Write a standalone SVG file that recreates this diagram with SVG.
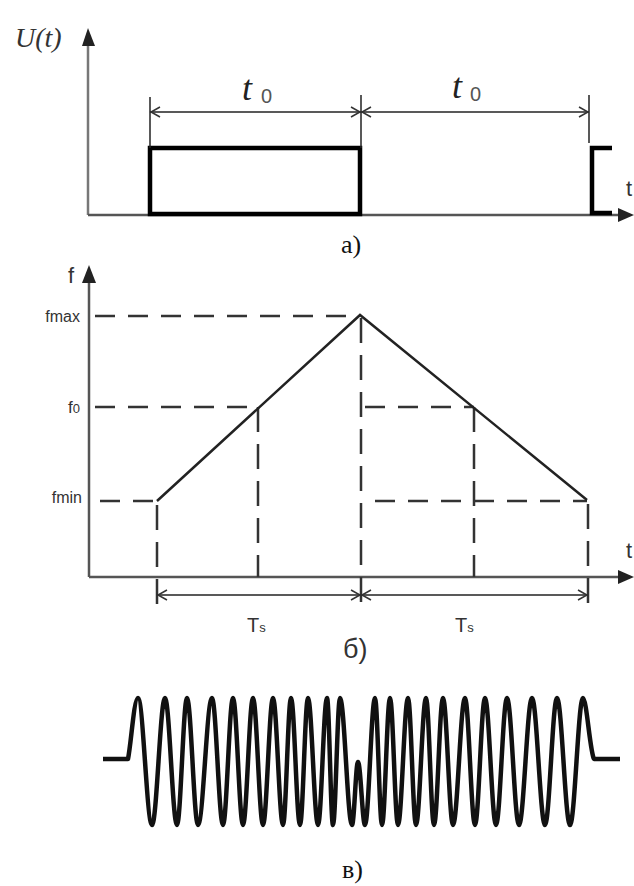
<svg xmlns="http://www.w3.org/2000/svg" width="634" height="886" viewBox="0 0 634 886">
<style>
.axis{stroke:#555;stroke-width:2.5;fill:none}
.axisg{stroke:#777;stroke-width:2.5;fill:none}
.dash{stroke:#333;stroke-width:2.5;fill:none;stroke-dasharray:20 13}
.vdash{stroke:#333;stroke-width:2.5;fill:none;stroke-dasharray:25 12}
.thin{stroke:#222;stroke-width:1.5;fill:none}
.chev{stroke:#333;stroke-width:1.5;fill:none}
.pulse{stroke:#000;stroke-width:4.5;fill:none}
.line{stroke:#222;stroke-width:2.5;fill:none}
.wave{stroke:#111;stroke-width:4.5;fill:none;stroke-linejoin:round}
</style>
<rect width="634" height="886" fill="#fff"/>

<!-- Panel a -->
<g id="panel-a-axes">
  <line class="axisg" x1="88" y1="44" x2="88" y2="215"/>
  <polygon points="88,28 82,46 95,46" fill="#222"/>
  <line class="axis" x1="88" y1="215" x2="622" y2="215"/>
  <polygon points="634,215 618,208 618,222" fill="#222"/>
  <text x="15" y="47" font-size="28" font-style="italic" font-family="Liberation Serif, Noto Serif, DejaVu Serif, Times, serif" fill="#333">U(t)</text>
  <text x="626" y="196" font-size="22" font-family="Liberation Sans, sans-serif" fill="#333">t</text>
</g>
<g id="pulse-1">
  <rect class="pulse" x="150" y="148" width="210" height="66"/>
</g>
<g id="pulse-2">
  <polyline class="pulse" points="612,148 592,148 592,213 612,213"/>
</g>
<g id="dim-a">
  <line class="thin" x1="150" y1="97" x2="150" y2="148"/>
  <line class="thin" x1="361" y1="95" x2="361" y2="148"/>
  <line class="thin" x1="589" y1="95" x2="589" y2="143"/>
  <line class="thin" x1="150" y1="112" x2="589" y2="112"/>
  <polyline class="chev" points="160,107 151,112 160,117"/>
  <polyline class="chev" points="351,107 360,112 351,117"/>
  <polyline class="chev" points="371,107 362,112 371,117"/>
  <polyline class="chev" points="579,107 588,112 579,117"/>
  <text x="242" y="100" font-size="36" font-style="italic" font-family="Liberation Serif, Noto Serif, DejaVu Serif, Times, serif" fill="#222">t</text>
  <text x="261" y="103" font-size="20" font-family="Liberation Sans, sans-serif" fill="#555">0</text>
  <text x="452" y="98" font-size="36" font-style="italic" font-family="Liberation Serif, Noto Serif, DejaVu Serif, Times, serif" fill="#222">t</text>
  <text x="470" y="101" font-size="20" font-family="Liberation Sans, sans-serif" fill="#555">0</text>
</g>
<text id="label-a" x="341" y="253" font-size="26" font-family="Liberation Serif, Noto Serif, DejaVu Serif, Times, serif" fill="#111">а)</text>

<!-- Panel b -->
<g id="panel-b-axes" font-family="Liberation Sans, sans-serif" fill="#333">
  <line class="axis" x1="89" y1="281" x2="89" y2="577"/>
  <polygon points="89,265 82,283 96,283" fill="#222"/>
  <line class="axis" x1="89" y1="577" x2="622" y2="577"/>
  <polygon points="634,577 618,570 618,584" fill="#222"/>
  <text x="68" y="283" font-size="22">f</text>
  <text x="626" y="558" font-size="22">t</text>
  <text x="80" y="322" font-size="16" text-anchor="end">fmax</text>
  <text x="80" y="413" font-size="17" text-anchor="end">f<tspan font-size="13">0</tspan></text>
  <text x="82" y="503" font-size="16" text-anchor="end">fmin</text>
</g>
<g id="guides-b">
  <line class="dash" x1="95" y1="316" x2="358" y2="316"/>
  <line class="dash" x1="95" y1="407" x2="258" y2="407"/>
  <line class="dash" x1="100" y1="501" x2="157" y2="501"/>
  <line class="dash" x1="365" y1="407" x2="474" y2="407"/>
  <line class="dash" x1="375" y1="501" x2="587" y2="501"/>
  <line class="vdash" x1="157" y1="505" x2="157" y2="612"/>
  <line class="vdash" x1="258" y1="407" x2="258" y2="577"/>
  <line class="vdash" x1="361" y1="318" x2="361" y2="612"/>
  <line class="vdash" x1="474" y1="407" x2="474" y2="577"/>
  <line class="vdash" x1="588" y1="504" x2="588" y2="605"/>
</g>
<g id="freq-ramp">
  <polyline class="line" points="157,501 360,315 587,500"/>
</g>
<g id="dim-b" font-family="Liberation Sans, sans-serif" fill="#333">
  <line class="thin" x1="157" y1="595" x2="588" y2="595" stroke-width="2.5"/>
  <polyline class="chev" points="167,590 158,595 167,600"/>
  <polyline class="chev" points="351,590 360,595 351,600"/>
  <polyline class="chev" points="371,590 362,595 371,600"/>
  <polyline class="chev" points="578,590 587,595 578,600"/>
  <text x="247" y="632" font-size="20">T<tspan font-size="13">s</tspan></text>
  <text x="455" y="632" font-size="20">T<tspan font-size="13">s</tspan></text>
</g>
<text id="label-b" x="343" y="658" font-size="27" font-family="Liberation Sans, sans-serif" fill="#333">б)</text>

<!-- Panel c -->
<g id="chirp">
  <path class="wave" d="M103 759 H128 C131 745 134 698 138 698
  C143.1 698 146.9 825 152 825 C156.7 825 160.3 698 165 698
  C169.4 698 172.6 825 177 825 C180.6 825 183.4 698 187 698
  C191 698 194 825 198 825 C203.1 825 206.9 698 212 698
  C216 698 219 825 223 825 C226.6 825 229.4 698 233 698
  C236.6 698 239.4 825 243 825 C246.6 825 249.4 698 253 698
  C256.6 698 259.4 825 263 825 C266.6 825 269.4 698 273 698
  C276.6 698 279.4 825 283 825 C285.9 825 288.1 698 291 698
  C294.3 698 296.7 825 300 825 C302.9 825 305.1 698 308 698
  C311.6 698 314.4 825 318 825 C321.3 825 323.7 698 327 698
  C329.2 698 330.8 825 333 825 C335.5 825 337.5 698 340 698
  C344.4 698 347.6 825 352 825 C354.2 825 355.8 762 358 762
  C360.5 762 362.5 825 365 825 C368.6 825 371.4 698 375 698
  C377.5 698 379.5 825 382 825 C384.9 825 387.1 698 390 698
  C392.9 698 395.1 825 398 825 C401.6 825 404.4 698 408 698
  C410.9 698 413.1 825 416 825 C419.6 825 422.4 698 426 698
  C428.9 698 431.1 825 434 825 C437.3 825 439.7 698 443 698
  C446.6 698 449.4 825 453 825 C457.4 825 460.6 698 465 698
  C468.6 698 471.4 825 475 825 C478.6 825 481.4 698 485 698
  C489 698 492 825 496 825 C500 825 503 698 507 698
  C511.4 698 514.6 825 519 825 C523.7 825 527.3 698 532 698
  C536.7 698 540.3 825 545 825 C549.4 825 552.6 698 557 698
  C561.7 698 565.3 825 570 825 C574.7 825 578.3 698 583 698
  C586.5 698 590 752 594 759 H620"/>
</g>
<text id="label-c" x="342" y="878" font-size="26" font-family="Liberation Serif, Noto Serif, DejaVu Serif, Times, serif" fill="#111">в)</text>
</svg>
